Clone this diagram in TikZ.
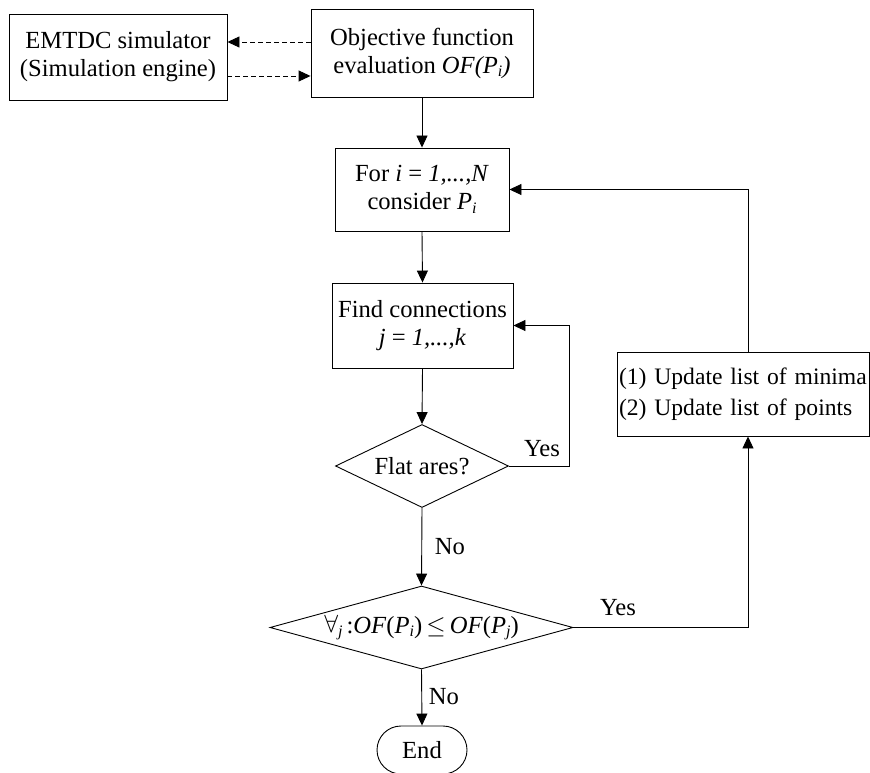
\documentclass[tikz,border=0pt]{standalone}
\usepackage{fontspec}
\setmainfont{Liberation Serif}
\usetikzlibrary{arrows.meta,shapes.geometric}
\newcommand{\mysub}[1]{\raisebox{-0.3ex}{\fontsize{16}{16}\selectfont\textit{#1}}}
\begin{document}
\begin{tikzpicture}[x=1pt,y=-1pt,
  font=\fontsize{24.6}{28}\selectfont,
  box/.style={draw,line width=0.9pt,inner sep=2pt,align=center},
  dia/.style={draw,line width=0.9pt,diamond,inner sep=0pt},
  arr/.style={line width=0.9pt,-{Triangle[length=12pt,width=11pt]}},
  darr/.style={arr,dash pattern=on 5pt off 3pt},
  lbl/.style={inner sep=0pt}]
\clip (0,0) rectangle (870,773);
\fill[white] (0,0) rectangle (870,773);
\node[box,minimum width=218pt,minimum height=86pt] (emtdc) at (118,57) {EMTDC simulator\\(Simulation engine)};
\node[box,minimum width=222pt,minimum height=88pt] (obj) at (422,53) {Objective function\\evaluation \textit{OF(P}\mysub{i}\textit{)}};
\node[box,minimum width=174pt,minimum height=83pt] (for) at (422,189.5) {For \textit{i} = \textit{1,...,N}\\consider \textit{P}\mysub{i}};
\node[box,minimum width=181pt,minimum height=85pt] (find) at (422.5,325.5) {Find connections\\\textit{j} = \textit{1,...,k}};
\node[dia,aspect=2.08,minimum width=173pt,minimum height=83pt] (flat) at (422,466) {\makebox[0pt]{Flat ares?}};
\node[dia,aspect=3.65,minimum width=303pt,minimum height=83pt] (forall) at (421.5,627.5) {\makebox[0pt]{\raisebox{0.1ex}{$\forall$}\mysub{j}\,:\textit{OF}(\textit{P}\mysub{i})\,$\leq$\,\textit{OF}(\textit{P}\mysub{j})}};
\node[draw,line width=0.9pt,inner xsep=2pt,inner ysep=2pt,text width=248pt,align=left,minimum height=84pt,font=\fontsize{23.6}{31}\selectfont] (update) at (743,394) {\mbox{(1) Update list of minima}\\\mbox{(2) Update list of points}};
\node[draw,line width=0.9pt,rounded corners=24pt,minimum width=90pt,minimum height=48pt,inner sep=0pt] (end) at (422,750) {End};
\coordinate (d1) at (0,42);
\coordinate (d2) at (0,76);
\coordinate (rx) at (748,0);
\coordinate (fx) at (569,0);
\draw[darr] (obj.west |- d1) -- (emtdc.east |- d1);
\draw[darr] (emtdc.east |- d2) -- (obj.west |- d2);
\draw[arr] (obj.south) -- (for.north);
\draw[arr] (for.south) -- (find.north);
\draw[arr] (find.south) -- (flat.north);
\draw[arr] (flat.south) -- (forall.north);
\draw[arr] (forall.south) -- (end.north);
\draw[arr] (flat.east) -- (flat.east -| fx) |- (find.east);
\draw[arr] (forall.east) -| (update.south -| rx);
\draw[arr] (update.north -| rx) |- (for.east);
\node[lbl] (y1) at (542,449) {Yes};
\node[lbl] (n1) at (450,547) {No};
\node[lbl] (y2) at (618,608) {Yes};
\node[lbl] (n2) at (444,697) {No};
\end{tikzpicture}
\end{document}
